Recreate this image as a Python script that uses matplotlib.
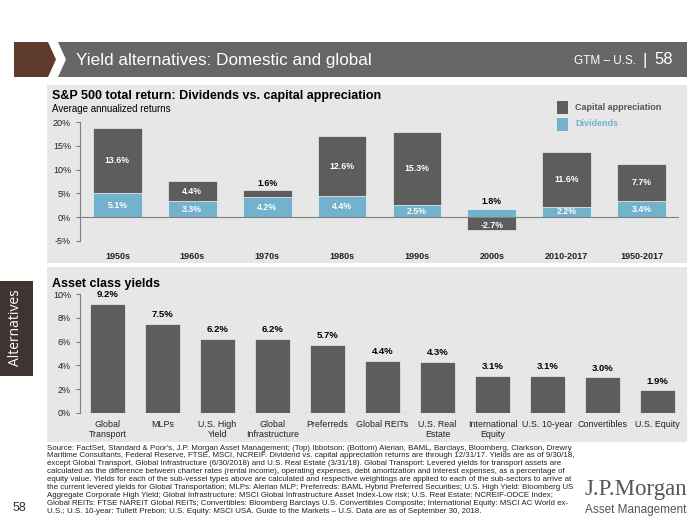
import matplotlib
matplotlib.use("Agg")
import matplotlib.pyplot as plt
from matplotlib.patches import Rectangle, Polygon

plt.rcParams['font.family'] = ['Liberation Sans', 'DejaVu Sans']

# S&P 500 total return (top)
periods = ["1950s", "1960s", "1970s", "1980s", "1990s", "2000s", "2010-2017", "1950-2017"]
dividends = [5.1, 3.3, 4.2, 4.4, 2.5, 1.8, 2.2, 3.4]
capital = [13.6, 4.4, 1.6, 12.6, 15.3, -2.7, 11.6, 7.7]

# Asset class yields (bottom)
assets = ["Global\nTransport", "MLPs", "U.S. High\nYield", "Global\nInfrastructure", "Preferreds",
          "Global REITs", "U.S. Real\nEstate", "International\nEquity", "U.S. 10-year",
          "Convertibles", "U.S. Equity"]
yields = [9.2, 7.5, 6.2, 6.2, 5.7, 4.4, 4.3, 3.1, 3.1, 3.0, 1.9]

DARK = "#5d5d5d"
BLUE = "#72b2cc"
PANEL = "#e7e7e7"
W, H = 700, 525

fig = plt.figure(figsize=(7, 5.25), dpi=100)

# background layer in pixel coordinates
bg = fig.add_axes([0, 0, 1, 1])
bg.set_xlim(0, W)
bg.set_ylim(H, 0)
bg.axis("off")

bg.add_patch(Polygon([(14, 42), (48, 42), (56, 59.5), (48, 77), (14, 77)], color="#5e3b2e", lw=0))
bg.add_patch(Polygon([(58, 42), (687, 42), (687, 77), (58, 77), (66, 59.5)], color="#666666", lw=0))
bg.text(76, 60, "Yield alternatives: Domestic and global", color="white", fontsize=12.3,
        va="center")
bg.text(636, 61, "GTM – U.S.", color="white", fontsize=8.5, va="center", ha="right")
bg.text(645, 60, "|", color="white", fontsize=12, va="center", ha="center")
bg.text(673, 60, "58", color="white", fontsize=12, va="center", ha="right")

bg.add_patch(Rectangle((47, 85), 640, 178, color=PANEL, lw=0))
bg.add_patch(Rectangle((47, 267), 640, 175, color=PANEL, lw=0))

bg.text(52, 96, "S&P 500 total return: Dividends vs. capital appreciation", fontsize=9,
        fontweight="bold", va="center")
bg.text(52, 109, "Average annualized returns", fontsize=7, va="center")
bg.text(52, 284, "Asset class yields", fontsize=9, fontweight="bold", va="center")

# legend
bg.add_patch(Rectangle((557, 101), 11, 13, color=DARK, lw=0))
bg.add_patch(Rectangle((557, 118), 11, 13, color=BLUE, lw=0))
bg.text(575, 108, "Capital appreciation", fontsize=6.5, color="#555555", va="center",
        fontweight="bold")
bg.text(575, 124, "Dividends", fontsize=6.5, color=BLUE, va="center", fontweight="bold")

# side tab
bg.add_patch(Rectangle((0, 281), 33, 95, color="#3e3532", lw=0))
bg.text(16, 328, "Alternatives", color="white", fontsize=10, rotation=90,
        ha="center", va="center", family="Open Sans")
bg.text(19, 508, "58", fontsize=9, ha="center", va="center", color="#333333")

# footnote
notes = [
    "Source: FactSet, Standard & Poor's, J.P. Morgan Asset Management; (Top) Ibbotson; (Bottom) Alerian, BAML, Barclays, Bloomberg, Clarkson, Drewry",
    "Maritime Consultants, Federal Reserve, FTSE, MSCI, NCREIF. Dividend vs. capital appreciation returns are through 12/31/17. Yields are as of 9/30/18,",
    "except Global Transport, Global Infrastructure (6/30/2018) and U.S. Real Estate (3/31/18). Global Transport: Levered yields for transport assets are",
    "calculated as the difference between charter rates (rental income), operating expenses, debt amortization and interest expenses, as a percentage of",
    "equity value. Yields for each of the sub-vessel types above are calculated and respective weightings are applied to each of the sub-sectors to arrive at",
    "the current levered yields for Global Transportation; MLPs: Alerian MLP; Preferreds: BAML Hybrid Preferred Securities; U.S. High Yield: Bloomberg US",
    "Aggregate Corporate High Yield; Global Infrastructure: MSCI Global Infrastructure Asset Index-Low risk; U.S. Real Estate: NCREIF-ODCE Index;",
    "Global REITs: FTSE NAREIT Global REITs; Convertibles: Bloomberg Barclays U.S. Convertibles Composite; International Equity: MSCI AC World ex-",
    "U.S.; U.S. 10-year: Tullett Prebon; U.S. Equity: MSCI USA. Guide to the Markets – U.S. Data are as of September 30, 2018.",
]
for i, line in enumerate(notes):
    bg.text(47, 448 + i * 7.9, line, fontsize=5.65, va="center", color="#222222")

bg.text(636, 489, "J.P.Morgan", fontsize=16.5, family="Liberation Serif", color="#555555",
        ha="center", va="center")
bg.text(636, 510, "Asset Management", fontsize=8.5, color="#555555", ha="center", va="center")


def px_axes(x0, x1, y0, y1):
    return fig.add_axes([x0 / W, 1 - y1 / H, (x1 - x0) / W, (y1 - y0) / H])


def style(ax):
    ax.set_facecolor("none")
    for s in ["top", "right", "bottom"]:
        ax.spines[s].set_visible(False)
    ax.spines["left"].set_color("#808080")
    ax.tick_params(axis="y", colors="#808080", labelcolor="#222222", labelsize=6.5,
                   length=3, direction="out")
    ax.tick_params(axis="x", length=0, labelsize=6.5, labelcolor="#222222")


# top chart
ax1 = px_axes(80, 679, 122, 241)
style(ax1)
x = range(len(periods))
ax1.bar(x, dividends, width=0.65, color=BLUE, edgecolor="white", linewidth=0.4)
cap_bottom = [d if c > 0 else 0 for d, c in zip(dividends, capital)]
ax1.bar(x, capital, width=0.65, bottom=cap_bottom, color=DARK, edgecolor="white", linewidth=0.4)
ax1.axhline(0, color="#808080", lw=0.8)
ax1.set_xlim(-0.5, len(periods) - 0.5)
ax1.set_ylim(-5, 20)
ax1.set_yticks([-5, 0, 5, 10, 15, 20])
ax1.set_yticklabels([f"{v}%" for v in [-5, 0, 5, 10, 15, 20]])
ax1.set_xticks(list(x))
ax1.set_xticklabels(periods, fontweight="bold")
ax1.tick_params(axis="x", pad=8)
for i, (d, c, b) in enumerate(zip(dividends, capital, cap_bottom)):
    if c < 0:
        ax1.text(i, d + 0.6, f"{d}%", ha="center", va="bottom", fontsize=6.3, fontweight="bold")
    else:
        ax1.text(i, d / 2, f"{d}%", ha="center", va="center", fontsize=6.3,
                 fontweight="bold", color="white")
    if abs(c) < 3:
        if c > 0:
            ax1.text(i, b + c + 0.4, f"{c}%", ha="center", va="bottom", fontsize=6.3,
                     fontweight="bold")
        else:
            ax1.text(i, c / 2 - 0.3, f"{c}%", ha="center", va="center", fontsize=6.3,
                     fontweight="bold", color="white")
    else:
        ax1.text(i, b + c / 2, f"{c}%", ha="center", va="center", fontsize=6.3,
                 fontweight="bold", color="white")

# bottom chart
ax2 = px_axes(80, 685, 294, 413)
style(ax2)
x2 = range(len(assets))
ax2.bar(x2, yields, width=0.62, color=DARK, edgecolor="white", linewidth=0.4)
ax2.axhline(0, color="#808080", lw=0.8)
ax2.set_xlim(-0.5, len(assets) - 0.5)
ax2.set_ylim(0, 10)
ax2.set_yticks([0, 2, 4, 6, 8, 10])
ax2.set_yticklabels([f"{v}%" for v in [0, 2, 4, 6, 8, 10]])
ax2.set_xticks(list(x2))
ax2.set_xticklabels(assets, fontsize=6.4, linespacing=1.15)
ax2.tick_params(axis="x", pad=5)
for i, v in enumerate(yields):
    ax2.text(i, v + 0.4, f"{v}%", ha="center", va="bottom", fontsize=6.8, fontweight="bold")

fig.savefig("out.png", dpi=100)
